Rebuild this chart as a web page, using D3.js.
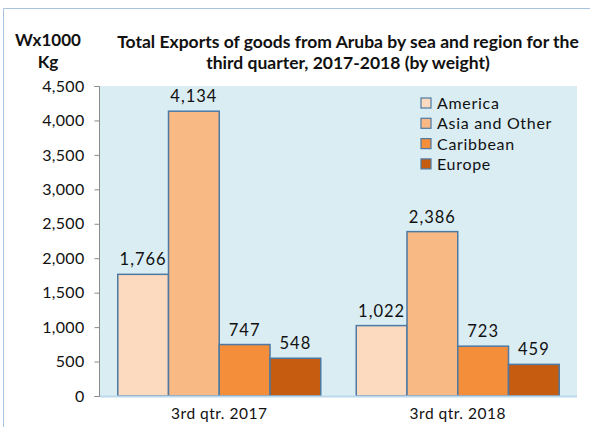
<!DOCTYPE html>
<html><head><meta charset="utf-8">
<script src="https://cdn.jsdelivr.net/npm/d3@7"></script>
<style>body{margin:0;background:#fff}svg{display:block}</style>
</head><body>
<svg id="c" width="590" height="427"></svg>
<script>
const categories = ["3rd qtr. 2017", "3rd qtr. 2018"];
const seriesNames = ["America", "Asia and Other", "Caribbean", "Europe"];
const america = [1766, 1022];
const asiaOther = [4134, 2386];
const caribbean = [747, 723];
const europe = [548, 459];
const yTicks = [0, 500, 1000, 1500, 2000, 2500, 3000, 3500, 4000, 4500];
const colors = ["#FBDAC0", "#F9B984", "#F58E3A", "#C55C10"];

const seriesValues = [america, asiaOther, caribbean, europe];
const font = "Lato, 'Open Sans', sans-serif";
const svg = d3.select("#c");

// outer frame
svg.append("path").attr("d", "M3.5,427 V8.5 H590").attr("fill", "none").attr("stroke", "#A8C3E0").attr("stroke-width", 1);

const L = 100, R = 577, T = 86, B = 396;
svg.append("rect").attr("x", L).attr("y", T).attr("width", R - L).attr("height", B - T).attr("fill", "#DAEDF3");

const y = d3.scaleLinear().domain([0, 4500]).range([B, T]);
const x0 = d3.scaleBand().domain(categories).range([L, R]).padding(0);
const x1 = d3.scaleBand().domain(seriesNames).range([0, x0.bandwidth()]).paddingInner(0).paddingOuter(0.35);

// bars
const data = [];
categories.forEach((c, i) => seriesNames.forEach((s, j) => data.push({c, s, j, v: seriesValues[j][i]})));
svg.append("g").selectAll("rect").data(data).join("rect")
  .attr("x", d => x0(d.c) + x1(d.s))
  .attr("y", d => y(d.v))
  .attr("width", x1.bandwidth())
  .attr("height", d => B - y(d.v))
  .attr("fill", d => colors[d.j])
  .attr("stroke", "#4D79A3").attr("stroke-width", 1.5);

// value labels
svg.append("g").selectAll("text").data(data).join("text")
  .attr("x", d => x0(d.c) + x1(d.s) + x1.bandwidth() / 2)
  .attr("y", d => y(d.v) - 9)
  .attr("text-anchor", "middle")
  .attr("font-family", font).attr("font-size", 16.5).attr("letter-spacing", 1).attr("fill", "#111")
  .text(d => d3.format(",")(d.v));

// bottom axis line
svg.append("line").attr("x1", L).attr("x2", R).attr("y1", B + 0.5).attr("y2", B + 0.5).attr("stroke", "#BCD8EC").attr("stroke-width", 2);

// y axis
const yAxis = d3.axisLeft(y).tickValues(yTicks).tickFormat(d3.format(",")).tickSize(5).tickPadding(10);
const ga = svg.append("g").attr("transform", `translate(${L - 0.5},0)`).call(yAxis);
ga.select(".domain").attr("stroke", "#8A8A8A").attr("d", `M-5,${T + 0.5}H0V${B + 0.5}H-5`);
ga.selectAll(".tick line").attr("stroke", "#8A8A8A");
ga.selectAll(".tick text").attr("font-family", font).attr("font-size", 16).attr("letter-spacing", 0.3).attr("fill", "#111");

// x axis labels
const xAxis = d3.axisBottom(x0).tickSize(0).tickPadding(12);
const gx = svg.append("g").attr("transform", `translate(0,${B})`).call(xAxis);
gx.select(".domain").remove();
gx.selectAll(".tick text").attr("font-family", font).attr("font-size", 15.5).attr("letter-spacing", 0.5).attr("fill", "#111");

// titles
const title = svg.append("text").attr("text-anchor", "middle").attr("font-family", font).attr("font-weight", "bold").attr("font-size", 17.5).attr("fill", "#111");
title.append("tspan").attr("x", 348).attr("y", 48).text("Total Exports of goods from Aruba by sea and region for the");
title.append("tspan").attr("x", 348).attr("y", 69).text("third quarter, 2017-2018 (by weight)");
const ylab = svg.append("text").attr("text-anchor", "middle").attr("font-family", font).attr("font-weight", "bold").attr("font-size", 17).attr("fill", "#111");
ylab.append("tspan").attr("x", 48).attr("y", 46).text("Wx1000");
ylab.append("tspan").attr("x", 48).attr("y", 68).text("Kg");

// legend
const lg = svg.append("g").attr("transform", "translate(421,98)");
const items = lg.selectAll("g").data(seriesNames).join("g").attr("transform", (d, i) => `translate(0,${i * 20.3})`);
items.append("rect").attr("width", 10).attr("height", 10).attr("fill", (d, i) => colors[i]).attr("stroke", "#4D79A3").attr("stroke-width", 1.2);
items.append("text").attr("x", 16).attr("y", 11).attr("font-family", font).attr("font-size", 16).attr("letter-spacing", 0.7).attr("fill", "#111").text(d => d);
</script>
</body></html>
